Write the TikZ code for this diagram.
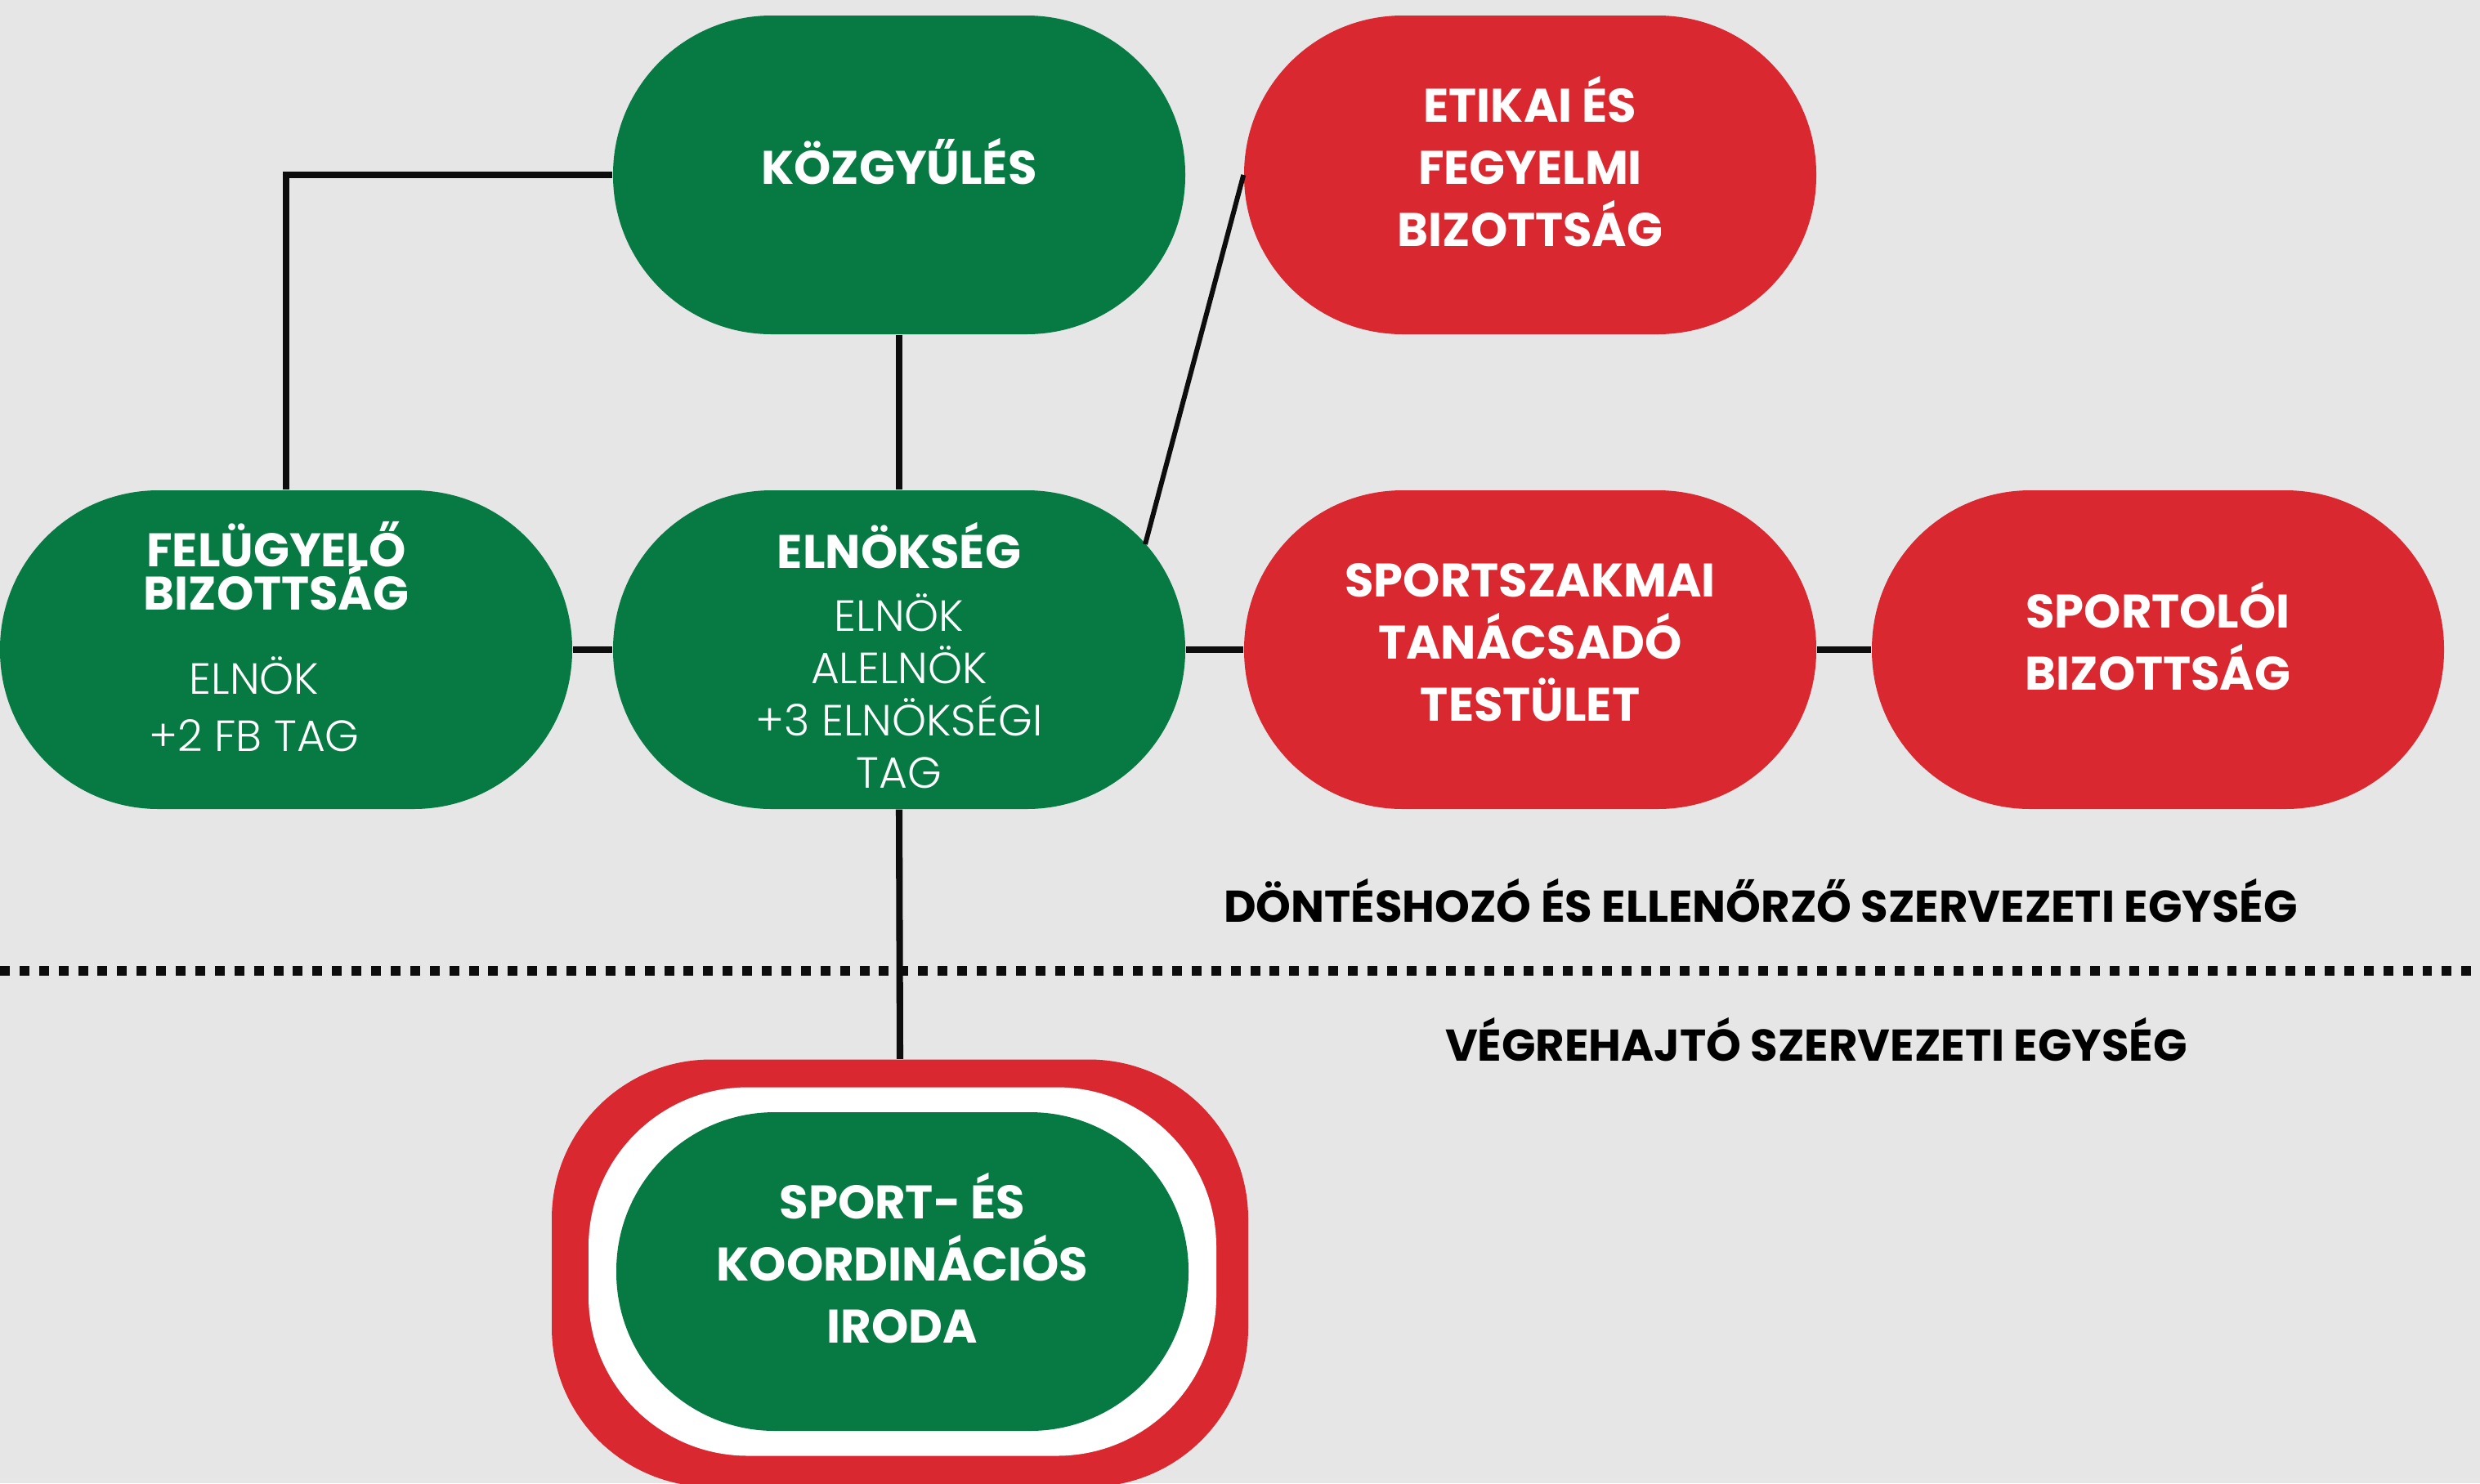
\documentclass[tikz,border=0pt]{standalone}
\usepackage{fontspec}
\setmainfont{Poppins}
\newfontfamily\thinfont{Poppins Light}
\definecolor{hgreen}{HTML}{067A42}
\definecolor{hred}{HTML}{DA2830}
\definecolor{paper}{HTML}{E6E6E6}
\newcommand\txtline[1]{\raisebox{0pt}[0.7em][0pt]{#1}}
\newcommand\subfont{\mdseries\thinfont\fontsize{15.2}{19.8}\selectfont}

\begin{document}
\begin{tikzpicture}[x=1cm,y=-1cm]

\tikzset{unit/.style = {shape=rectangle, rounded corners=1.94cm, minimum width=7cm, minimum height=3.9cm, inner sep=0pt, text=white, align=center, text depth=0.18cm, font=\fontsize{16.4}{21.6}\selectfont\bfseries}}
\tikzset{green unit/.style = {unit, fill=hgreen}}
\tikzset{red unit/.style = {unit, fill=hred}}
\tikzset{link/.style = {draw=black!95, line width=2.3pt}}
\tikzset{divider/.style = {draw=black!95, line width=3.3pt, dash pattern=on 3.4pt off 3.4pt}}
\tikzset{caption/.style = {text=black, font=\fontsize{15.5}{21.6}\selectfont\bfseries}}

\fill[paper] (0,0) rectangle (30.34,18.15);
\useasboundingbox (0,0) rectangle (30.34,18.15);
%units
\node[green unit] (kozgyules) at (11.00,2.14) {\txtline{KÖZGYŰLÉS}};
\node[red unit] (etikai) at (18.72,2.14) {\txtline{ETIKAI ÉS}\\\txtline{FEGYELMI}\\\txtline{BIZOTTSÁG}};
\node[green unit] (felugyelo) at (3.50,7.95) {\txtline{FELÜGYELŐ\hspace*{0.24cm}}\\[-6.3pt]\txtline{BIZOTTSÁG\hspace*{0.24cm}}\\[7.6pt]\txtline{\subfont ELNÖK\hspace*{0.78cm}}\\[-1.8pt]\txtline{\subfont +2 FB TAG\hspace*{0.78cm}}};
\node[green unit] (elnokseg) at (11.00,7.95) {\raisebox{0pt}[25pt][0pt]{ELNÖKSÉG}\\[0.5pt]\txtline{\subfont ELNÖK}\\[-3.4pt]\txtline{\subfont ALELNÖK}\\[-3.4pt]\txtline{\subfont +3 ELNÖKSÉGI}\\[-3.4pt]\txtline{\subfont TAG}};
\node[red unit] (sportszakmai) at (18.72,7.95) {\txtline{SPORTSZAKMAI}\\\txtline{TANÁCSADÓ}\\\txtline{TESTÜLET}};
\node[red unit] (sportoloi) at (26.40,7.95) {\txtline{SPORTOLÓI}\\\txtline{BIZOTTSÁG}};
%executive part
\node[red unit, minimum width=8.52cm, minimum height=5.23cm, rounded corners=1.95cm] (redring) at (11.01,15.58) {};
\node[unit, fill=white, minimum width=7.68cm, minimum height=4.51cm, rounded corners=1.95cm] (whitering) at (11.04,15.56) {};
\node[green unit] (iroda) at (11.04,15.56) {\txtline{SPORT- ÉS}\\\txtline{KOORDINÁCIÓS}\\\txtline{IRODA}};
%captions
\node[caption] (donteshozo) at (21.54,11.09) {\txtline{DÖNTÉSHOZÓ ÉS ELLENŐRZŐ SZERVEZETI EGYSÉG}};
\node[caption] (vegrehajto) at (22.22,12.79) {\txtline{VÉGREHAJTÓ SZERVEZETI EGYSÉG}};
%edges
\draw[link] (kozgyules.west) -| (felugyelo.north);
\draw[link] (kozgyules.south) -- (elnokseg.north);
\draw[link] (felugyelo.east) -- (elnokseg.west);
\draw[link] (elnokseg.east) -- (sportszakmai.west);
\draw[link] (sportszakmai.east) -- (sportoloi.west);
\draw[link, line width=1.7pt] ([shift={(3.01,-1.29)}]elnokseg.center) -- (etikai.west);
\draw[link] (elnokseg.south) -- (redring.north);
\draw[divider] (0,11.88) -- (30.34,11.88);

\end{tikzpicture}
\end{document}
